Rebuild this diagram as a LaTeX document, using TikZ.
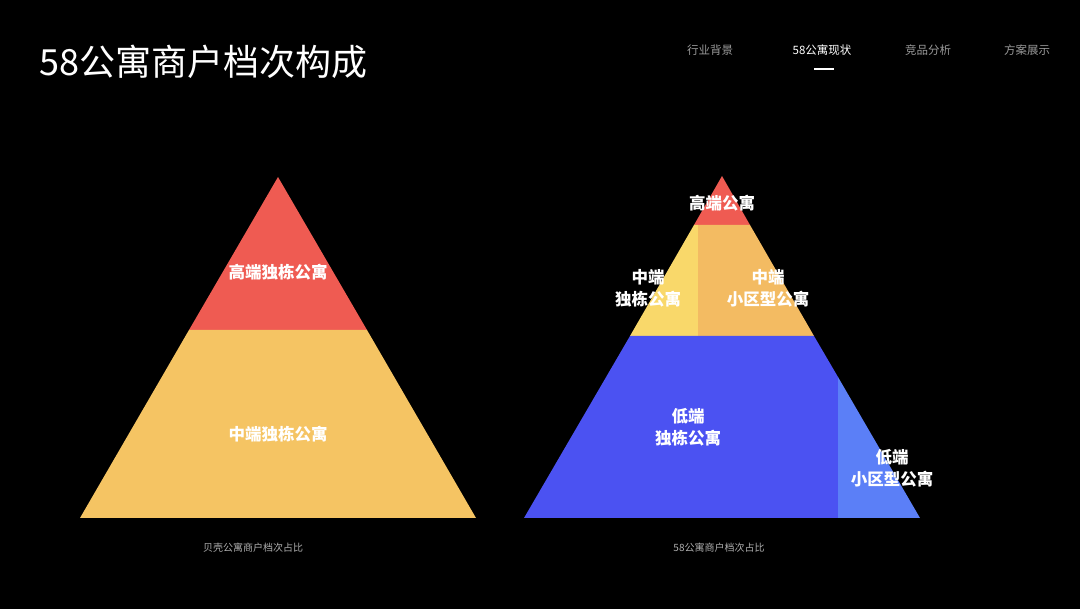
\documentclass[tikz,border=0pt]{standalone}
\usepackage{fontspec}
\newfontfamily\cjk{Noto Sans CJK SC}
\definecolor{cred}{HTML}{EF5B52}
\definecolor{cyel}{HTML}{F5C463}
\definecolor{clyel}{HTML}{F9D86A}
\definecolor{cora}{HTML}{F3BB62}
\definecolor{cblue}{HTML}{4B52F2}
\definecolor{clblue}{HTML}{5B7FF7}
\definecolor{cgray}{HTML}{9A9A9A}
\tikzset{lab/.style={text=white,font=\cjk\bfseries\fontsize{16.5}{22}\selectfont,align=center},
nav/.style={text=cgray,font=\cjk\fontsize{11.5}{14}\selectfont},
captxt/.style={text=cgray!80,font=\cjk\fontsize{10}{12}\selectfont}}
\begin{document}
\begin{tikzpicture}[x=1pt,y=-1pt]
\fill[black] (0,0) rectangle (1080,609);
\useasboundingbox (0,0) rectangle (1080,609);
\node[anchor=west,text=white,font=\cjk\fontsize{36}{42}\selectfont] (title) at (36,62) {58公寓商户档次构成};
\node[nav] (n1) at (710,50) {行业背景};
\node[nav,text=white] (n2) at (822,50) {58公寓现状};
\node[nav] (n3) at (928,50) {竞品分析};
\node[nav] (n4) at (1027,50) {方案展示};
\draw[white,line width=1.5] (814,69) -- (834,69);
% left pyramid
\fill[cred] (278,177) -- (367,330) -- (189,330) -- cycle;
\fill[cyel] (189,330) -- (367,330) -- (476,518) -- (80,518) -- cycle;
\node[lab] (l1) at (278,272) {高端独栋公寓};
\node[lab] (l2) at (278,434) {中端独栋公寓};
\node[captxt] (c1) at (253,548) {贝壳公寓商户档次占比};
% right pyramid
\fill[cred] (722,176) -- (750,225) -- (694,225) -- cycle;
\fill[clyel] (694,225) -- (698,225) -- (698,336) -- (630,336) -- cycle;
\fill[cora] (698,225) -- (750,225) -- (814,336) -- (698,336) -- cycle;
\fill[cblue] (630,336) -- (814,336) -- (838,377) -- (838,518) -- (524,518) -- cycle;
\fill[clblue] (838,377) -- (920,518) -- (838,518) -- cycle;
\node[lab] (r1) at (722,203) {高端公寓};
\node[lab] (r2) at (648,288) {中端\\独栋公寓};
\node[lab] (r3) at (768,288) {中端\\小区型公寓};
\node[lab] (r4) at (688,427) {低端\\独栋公寓};
\node[lab] (r5) at (892,468) {低端\\小区型公寓};
\node[captxt] (c2) at (719,548) {58公寓商户档次占比};
\end{tikzpicture}
\end{document}
